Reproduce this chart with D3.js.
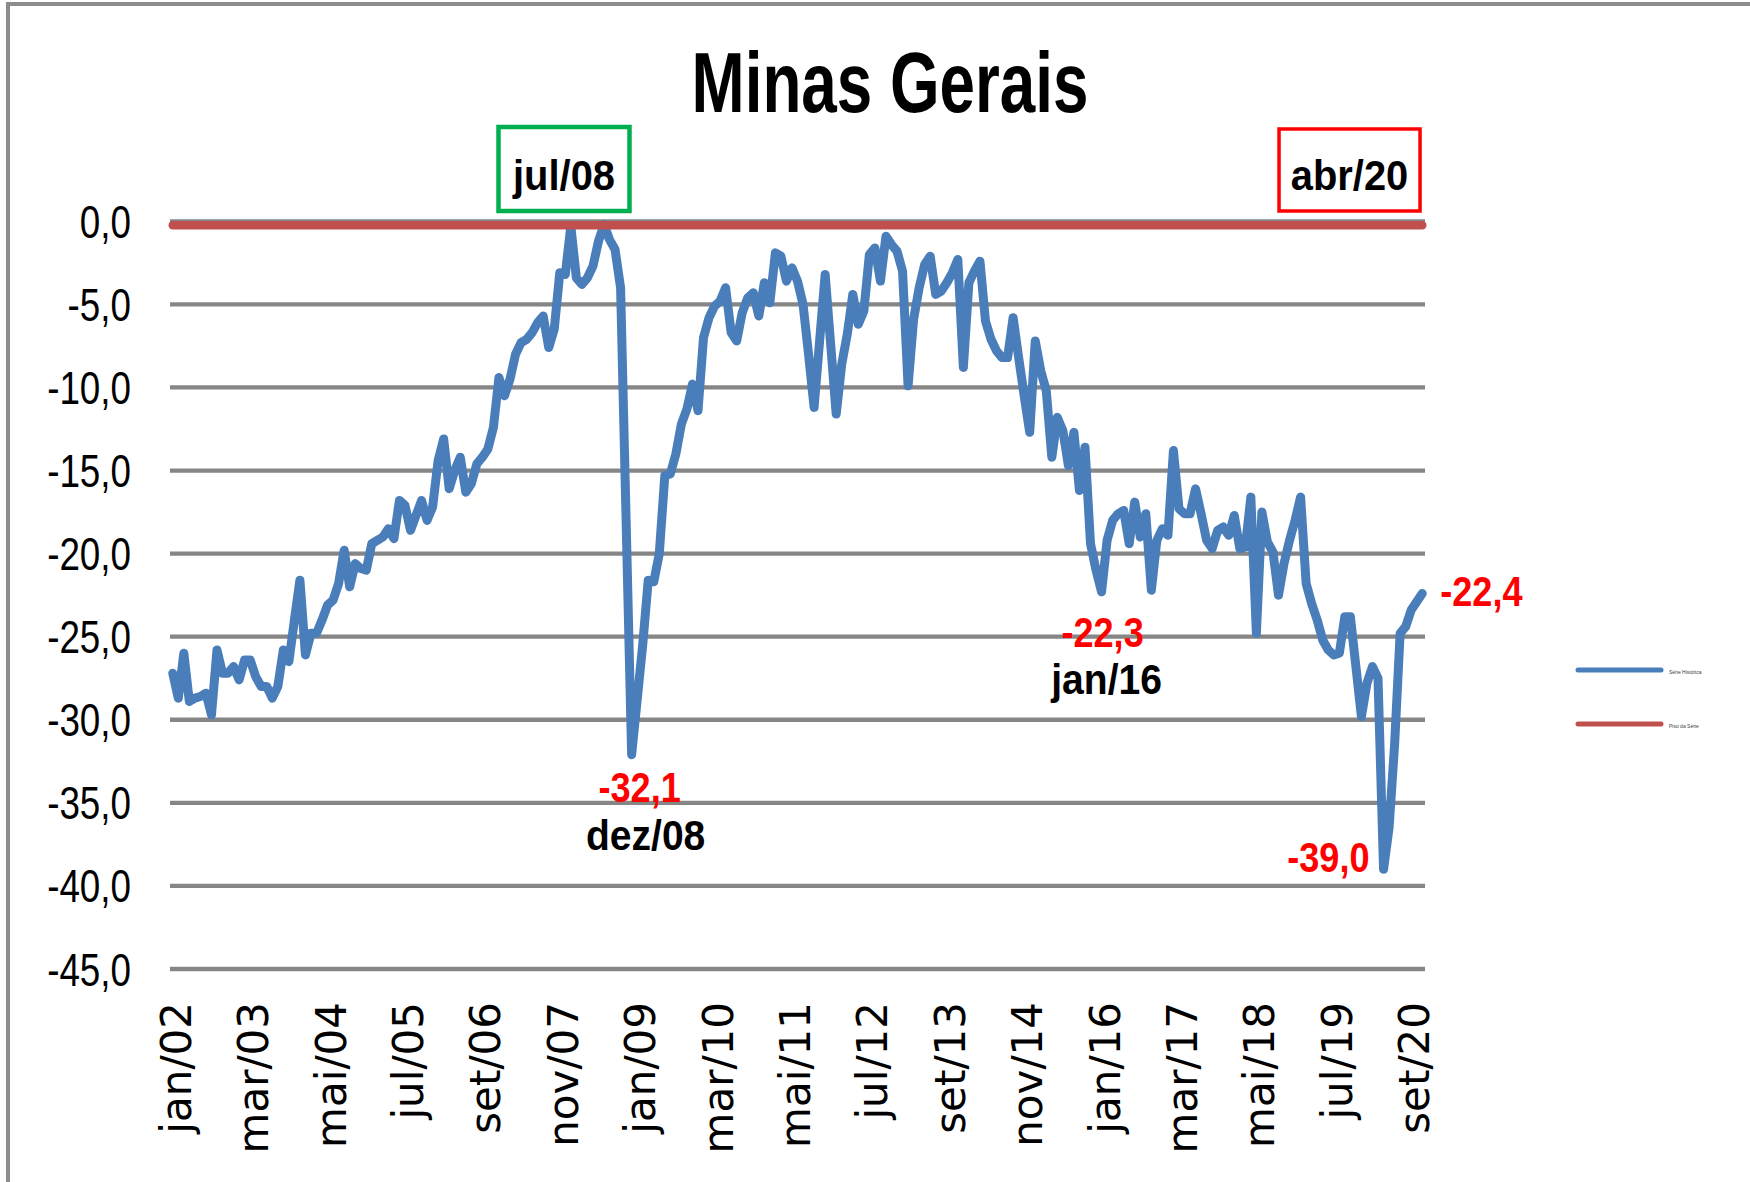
<!DOCTYPE html>
<html><head><meta charset="utf-8">
<script src="https://cdn.jsdelivr.net/npm/d3@7"></script>
<style>html,body{margin:0;padding:0;background:#fff;} svg{display:block;}</style>
</head><body>
<svg id="c" width="1750" height="1182"></svg>
<script>
// ---------- DATA ----------
const monthNames = ["jan","fev","mar","abr","mai","jun","jul","ago","set","out","nov","dez"];
const firstYear = 2002;
const nMonths = 227; // jan/02 .. nov/20
const categories = d3.range(nMonths).map(i => monthNames[i % 12] + "/" + String((firstYear + Math.floor(i / 12)) % 100).padStart(2, "0"));

const serieHistorica = [
 -27.2,-28.7,-26.0,-28.9,-28.7,-28.6,-28.4,-29.7,-25.8,-27.2,-27.2,-26.8,
 -27.6,-26.4,-26.4,-27.4,-28.0,-28.0,-28.7,-28.0,-25.8,-26.5,-24.0,-21.6,
 -26.1,-24.8,-24.8,-24.0,-23.1,-22.8,-21.8,-19.8,-22.0,-20.6,-20.9,-21.0,
 -19.4,-19.2,-19.0,-18.5,-19.1,-16.8,-17.1,-18.6,-17.7,-16.8,-18.0,-17.2,
 -14.4,-13.1,-16.1,-15.0,-14.2,-16.3,-15.8,-14.6,-14.2,-13.7,-12.4,-9.4,
 -10.5,-9.5,-8.0,-7.3,-7.1,-6.7,-6.1,-5.7,-7.6,-6.5,-3.1,-3.2,
 -0.3,-3.4,-3.8,-3.4,-2.7,-1.2,-0.2,-1.1,-1.7,-4.0,-18.0,-32.1,
 -28.8,-25.5,-21.6,-21.7,-20.0,-15.3,-15.2,-14.0,-12.2,-11.3,-9.8,-11.4,
 -7.0,-5.8,-5.1,-4.8,-4.0,-6.7,-7.2,-5.5,-4.6,-4.3,-5.7,-3.7,
 -4.9,-1.9,-2.1,-3.6,-2.8,-3.6,-5.0,-8.0,-11.2,-7.2,-3.2,-7.4,
 -11.6,-8.6,-6.8,-4.4,-6.2,-5.4,-2.0,-1.6,-3.6,-0.9,-1.4,-1.8,
 -3.0,-9.9,-5.9,-4.0,-2.6,-2.1,-4.4,-4.2,-3.7,-3.1,-2.3,-8.8,
 -3.7,-3.0,-2.4,-6.0,-7.1,-7.8,-8.2,-8.2,-5.8,-8.2,-10.5,-12.7,
 -7.2,-9.0,-10.2,-14.2,-11.8,-12.6,-14.7,-12.7,-16.2,-13.6,-19.4,-21.0,
 -22.3,-19.2,-18.0,-17.6,-17.4,-19.4,-16.9,-19.0,-17.6,-22.2,-19.2,-18.5,
 -18.9,-13.8,-17.3,-17.6,-17.6,-16.1,-17.6,-19.2,-19.7,-18.6,-18.4,-18.9,
 -17.7,-19.7,-19.6,-16.6,-24.8,-17.5,-19.3,-19.9,-22.5,-20.6,-19.2,-18.0,
 -16.6,-21.8,-23.0,-24.0,-25.2,-25.8,-26.1,-26.0,-23.8,-23.8,-26.8,-29.8,
 -27.8,-26.8,-27.5,-39.0,-36.5,-31.5,-24.8,-24.4,-23.4,-22.9,-22.4
];

const pisoCats = ["jan/02", "nov/20"];
const pisoSerie = [0, 0];

const tickLabels = ["jan/02","mar/03","mai/04","jul/05","set/06","nov/07","jan/09","mar/10","mai/11",
                    "jul/12","set/13","nov/14","jan/16","mar/17","mai/18","jul/19","set/20"];
const yTicks = [0,-5,-10,-15,-20,-25,-30,-35,-40,-45];

const seriesNames = ["Série Histórica", "Piso da Série"];
const boxLabels = [{text:"jul/08", color:"#00b050"}, {text:"abr/20", color:"#ff0000"}];
const valueLabels = [
  {cat:"dez/08", value:-32.1, date:"dez/08"},
  {cat:"jan/16", value:-22.3, date:"jan/16"},
  {cat:"abr/20", value:-39.0, date:null},
  {cat:"nov/20", value:-22.4, date:null}
];

// ---------- CHART ----------
const svg = d3.select("#c");
const fmt = v => d3.format(".1f")(v).replace(".", ",").replace("−", "-");
const x = d3.scalePoint().domain(categories).range([170, 1425]).padding(0.5);
const y = d3.scaleLinear().domain([-45, 0]).range([969, 221.3]);

// frame
svg.append("rect").attr("x", 8).attr("y", 4).attr("width", 1800).attr("height", 1300)
  .attr("fill", "none").attr("stroke", "#8c8c8c").attr("stroke-width", 4);

// title
svg.append("text").attr("transform", "translate(890,112) scale(0.75,1)")
  .attr("text-anchor", "middle").attr("font-family", "Liberation Sans, Arial, sans-serif")
  .attr("font-weight", "bold").attr("font-size", 85).attr("fill", "#000").text("Minas Gerais");

// gridlines
svg.append("g").selectAll("line").data(yTicks).join("line")
  .attr("x1", 170).attr("x2", 1425).attr("y1", d => y(d)).attr("y2", d => y(d))
  .attr("stroke", "#868686").attr("stroke-width", 4.3);

// y axis labels
svg.append("g").selectAll("text").data(yTicks).join("text")
  .attr("transform", d => `translate(131,${y(d)}) scale(0.8,1)`)
  .attr("text-anchor", "end").attr("dy", "0.36em")
  .attr("font-family", "Liberation Sans, Arial, sans-serif").attr("font-size", 46).attr("fill", "#000")
  .text(d => fmt(d));

// x axis labels
svg.append("g").selectAll("text").data(tickLabels).join("text")
  .attr("transform", d => `translate(${x(d)},1002) rotate(-90)`)
  .attr("text-anchor", "end").attr("dy", "0.43em")
  .attr("font-family", "DejaVu Sans, sans-serif").attr("font-size", 42).attr("fill", "#000")
  .text(d => d);

// historic series
const line = d3.line().x((d, i) => x(categories[i])).y(d => y(d));
svg.append("path").datum(serieHistorica).attr("d", line)
  .attr("fill", "none").attr("stroke", "#4a7ebb").attr("stroke-width", 9)
  .attr("stroke-linejoin", "round").attr("stroke-linecap", "round");

// floor series
const line2 = d3.line().x((d, i) => x(pisoCats[i])).y(d => y(d));
svg.append("path").datum(pisoSerie).attr("d", line2).attr("transform", "translate(0,4)")
  .attr("fill", "none").attr("stroke", "#c0504d").attr("stroke-width", 8.5).attr("stroke-linecap", "round");

// boxes
const boxes = [
  {lab: boxLabels[0], cx: x("jul/08") - 40, w: 131, y0: 127, h: 84, sw: 4.5},
  {lab: boxLabels[1], cx: x("abr/20") - 34, w: 141, y0: 129, h: 82, sw: 3.5}
];
boxes.forEach(b => {
  svg.append("rect").attr("x", b.cx - b.w / 2).attr("y", b.y0).attr("width", b.w).attr("height", b.h)
    .attr("fill", "#fff").attr("stroke", b.lab.color).attr("stroke-width", b.sw);
  svg.append("text").attr("transform", `translate(${b.cx},190) scale(0.95,1)`)
    .attr("text-anchor", "middle").attr("font-family", "Liberation Sans, Arial, sans-serif")
    .attr("font-weight", "bold").attr("font-size", 42).attr("fill", "#000").text(b.lab.text);
});

// value annotations
function ann(txt, tx, ty, anchor, color, sx) {
  svg.append("text").attr("transform", `translate(${tx},${ty}) scale(${sx},1)`)
    .attr("text-anchor", anchor).attr("font-family", "Liberation Sans, Arial, sans-serif")
    .attr("font-weight", "bold").attr("font-size", 42).attr("fill", color).text(txt);
}
const a0 = valueLabels[0], a1 = valueLabels[1], a2 = valueLabels[2], a3 = valueLabels[3];
ann(fmt(a0.value), x(a0.cat) + 8, y(a0.value) + 47, "middle", "#ff0000", 0.86);
ann(a0.date, x(a0.cat) + 14, y(a0.value) + 95, "middle", "#000", 0.93);
ann(fmt(a1.value), x(a1.cat) + 1, y(a1.value) + 55, "middle", "#ff0000", 0.86);
ann(a1.date, x(a1.cat) + 5, y(a1.value) + 102, "middle", "#000", 0.93);
ann(fmt(a2.value), x(a2.cat) - 14, y(a2.value) + 3, "end", "#ff0000", 0.86);
ann(fmt(a3.value), x(a3.cat) + 18, y(a3.value) + 13, "start", "#ff0000", 0.86);

// legend
const legColors = ["#4a7ebb", "#c0504d"];
const legY = [670, 724];
seriesNames.forEach((n, i) => {
  svg.append("line").attr("x1", 1578).attr("x2", 1661).attr("y1", legY[i]).attr("y2", legY[i])
    .attr("stroke", legColors[i]).attr("stroke-width", 5).attr("stroke-linecap", "round");
  svg.append("text").attr("x", 1669).attr("y", legY[i] + 2).attr("dy", "0.35em")
    .attr("font-family", "Liberation Sans, Arial, sans-serif").attr("font-size", 5)
    .attr("fill", "#404040").text(n);
});
</script>
</body></html>
